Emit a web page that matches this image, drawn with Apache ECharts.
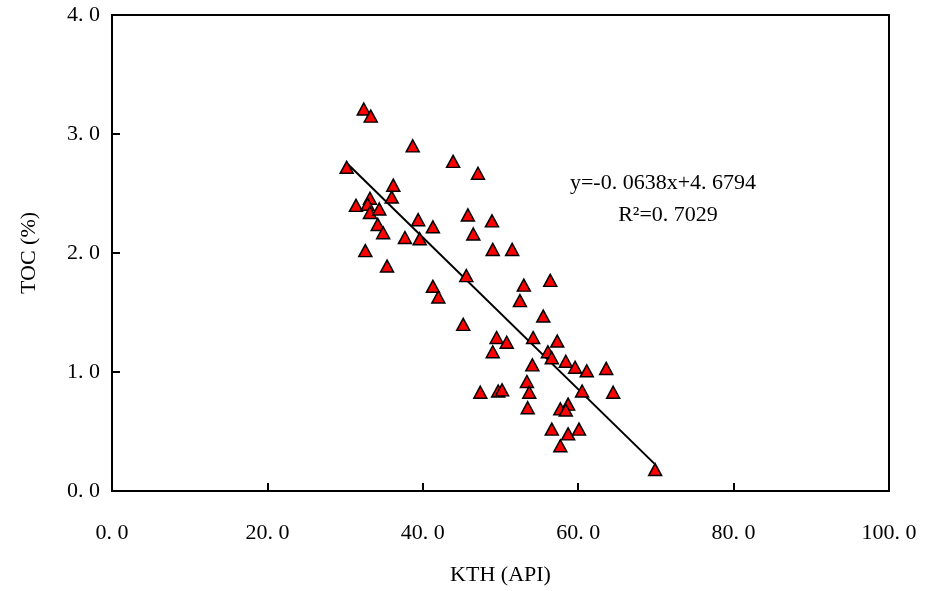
<!DOCTYPE html>
<html>
<head>
<meta charset="utf-8">
<script src="https://cdn.jsdelivr.net/npm/echarts@6/dist/echarts.min.js"></script>
<style>
html,body{margin:0;padding:0;background:#fff;}
#chart{width:927px;height:591px;}
</style>
</head>
<body>
<div id="chart"></div>
<script>
// KTH (API) values
const kth = [32.4, 33.3, 38.7, 43.9, 47.1, 30.2, 36.2, 36.0, 33.2, 31.4,
             32.9, 33.2, 34.4, 34.2, 34.9, 32.6, 35.4, 37.7, 39.6, 39.4,
             41.3, 41.3, 42.0, 45.6, 45.2, 45.8, 48.9, 46.5, 49.0, 51.5,
             53.0, 56.4, 52.5, 55.5, 49.5, 50.8, 49.0, 54.2, 57.3, 56.1,
             56.6, 58.4, 59.6, 61.1, 63.6, 54.1, 53.4, 53.7, 47.4, 49.7,
             50.2, 53.5, 60.5, 64.5, 58.7, 57.7, 58.4, 56.6, 58.7, 60.1,
             57.7, 69.9];
// TOC (%) values
const toc = [3.21, 3.15, 2.90, 2.77, 2.67, 2.72, 2.57, 2.47, 2.46, 2.40,
             2.41, 2.34, 2.37, 2.24, 2.17, 2.02, 1.89, 2.13, 2.12, 2.28,
             2.22, 1.72, 1.63, 1.81, 1.40, 2.32, 2.27, 2.16, 2.03, 2.03,
             1.73, 1.77, 1.60, 1.47, 1.29, 1.25, 1.17, 1.29, 1.26, 1.17,
             1.12, 1.09, 1.04, 1.01, 1.03, 1.06, 0.92, 0.83, 0.83, 0.84,
             0.85, 0.70, 0.84, 0.83, 0.73, 0.69, 0.68, 0.52, 0.48, 0.52,
             0.38, 0.18];
// Fitted line endpoints (x, y)
const fitX = [30.3, 69.8];
const fitY = [2.75, 0.23];
const xTicks = [0, 20, 40, 60, 80, 100];
const yTicks = [0, 1, 2, 3, 4];
const eqText = 'y=-0. 0638x+4. 6794';
const r2Text = 'R²=0. 7029';

const fmt = v => v.toFixed(1).replace('.', '. ');
const font = '"Liberation Serif", "Times New Roman", serif';

const chart = echarts.init(document.getElementById('chart'), null, {renderer: 'canvas'});
chart.setOption({
  animation: false,
  backgroundColor: '#ffffff',
  grid: {left: 112, right: 38, top: 15, bottom: 96, show: true,
         borderColor: '#000', borderWidth: 2, backgroundColor: 'transparent'},
  xAxis: {
    type: 'value', min: xTicks[0], max: xTicks[xTicks.length - 1], interval: 20,
    name: 'KTH (API)', nameLocation: 'middle', nameGap: 73,
    nameTextStyle: {fontFamily: font, fontSize: 22, color: '#000'},
    axisLine: {lineStyle: {color: '#000', width: 2}},
    axisTick: {inside: true, length: 8, lineStyle: {color: '#000', width: 2}},
    axisLabel: {fontFamily: font, fontSize: 22, color: '#000', margin: 31, formatter: fmt},
    splitLine: {show: false}
  },
  yAxis: {
    type: 'value', min: yTicks[0], max: yTicks[yTicks.length - 1], interval: 1,
    name: 'TOC (%)', nameLocation: 'middle', nameGap: 72, nameRotate: 90,
    nameTextStyle: {fontFamily: font, fontSize: 22, color: '#000'},
    axisLine: {lineStyle: {color: '#000', width: 2}},
    axisTick: {inside: true, length: 8, lineStyle: {color: '#000', width: 2}},
    axisLabel: {fontFamily: font, fontSize: 22, color: '#000', margin: 12, formatter: fmt},
    splitLine: {show: false}
  },
  series: [
    {
      type: 'line',
      data: fitX.map((x, i) => [x, fitY[i]]),
      symbol: 'none',
      lineStyle: {color: '#000', width: 2},
      z: 2
    },
    {
      type: 'scatter',
      data: kth.map((x, i) => [x, toc[i]]),
      symbol: 'triangle',
      symbolSize: [13, 12],
      itemStyle: {color: '#ff0000', borderColor: '#000', borderWidth: 1.5, opacity: 1},
      z: 3
    }
  ],
  graphic: [
    {type: 'text', x: 663, y: 183, style: {text: eqText, font: '22px ' + font, fill: '#000',
      textAlign: 'center', textVerticalAlign: 'middle'}},
    {type: 'text', x: 668, y: 215, style: {text: r2Text, font: '22px ' + font, fill: '#000',
      textAlign: 'center', textVerticalAlign: 'middle'}}
  ]
});
</script>
</body>
</html>
